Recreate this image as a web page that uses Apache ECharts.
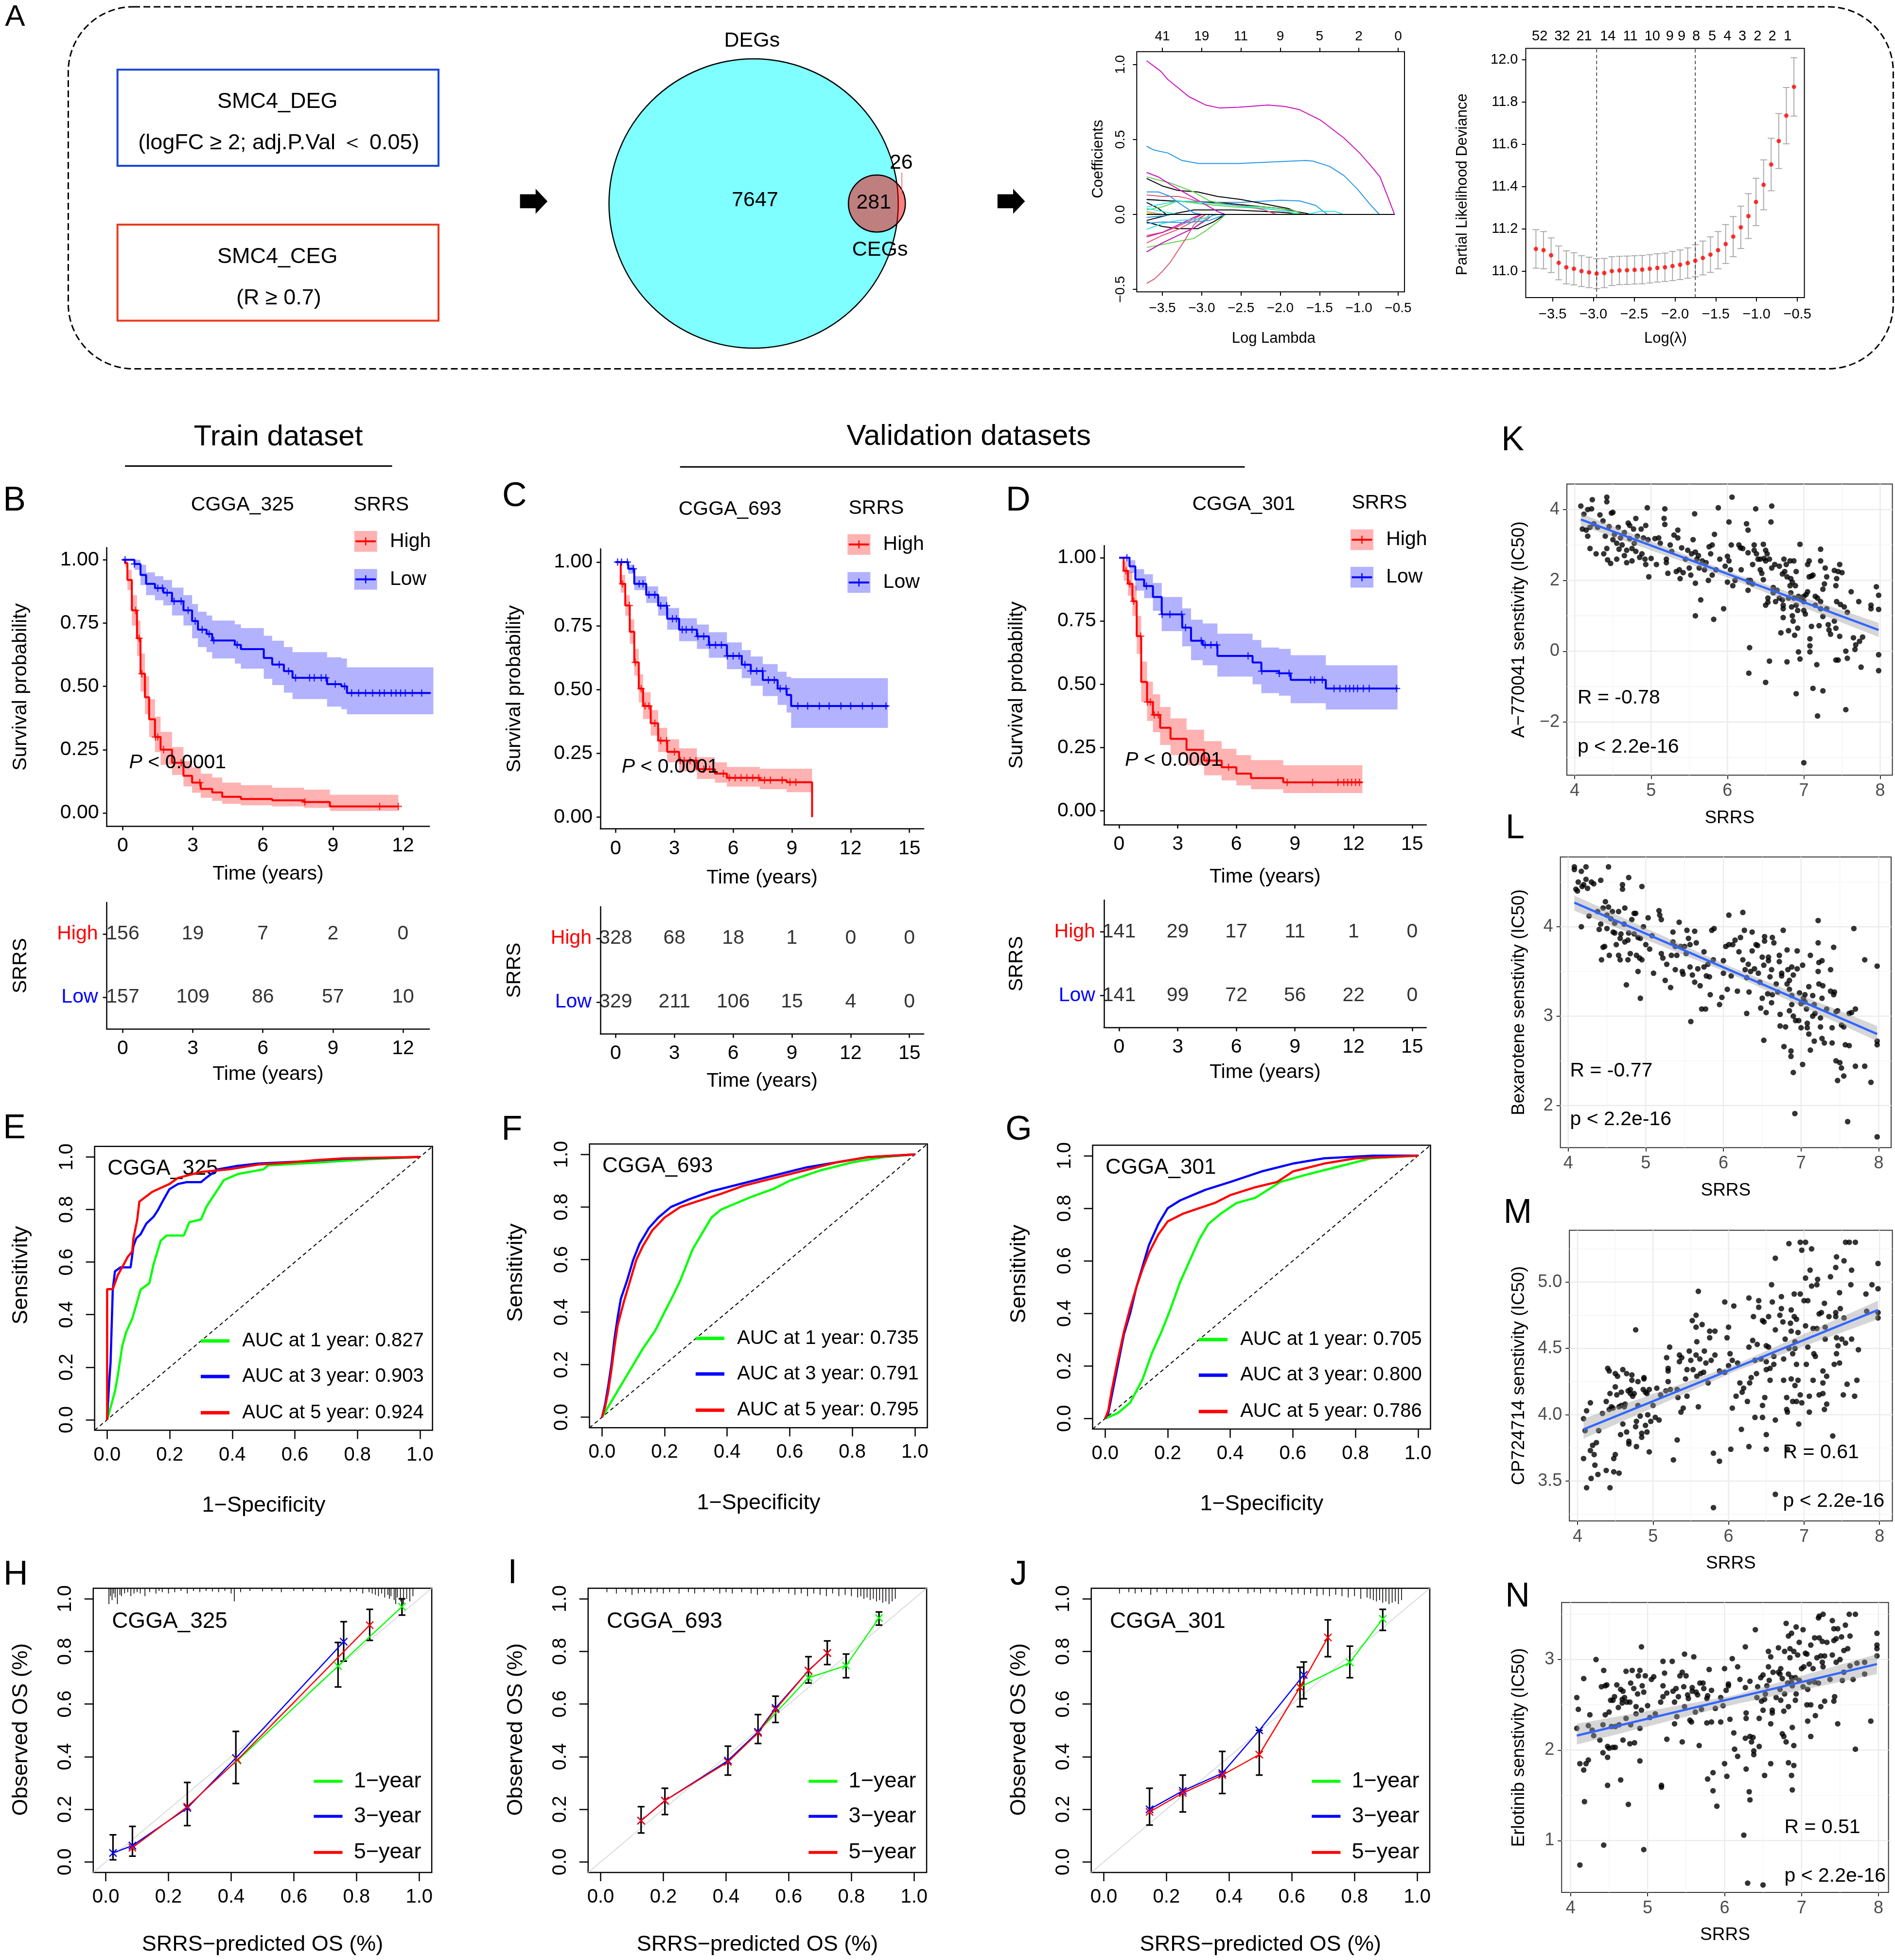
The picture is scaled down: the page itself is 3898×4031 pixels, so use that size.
<!DOCTYPE html>
<html>
<head>
<meta charset="utf-8">
<title>SRRS signature figure</title>
<script src="https://cdn.jsdelivr.net/npm/echarts@6.0.0/dist/echarts.min.js"></script>
<style>
  html, body { margin: 0; padding: 0; background: #fff; }
  #fig { width: 3898px; height: 4031px; }
</style>
</head>
<body>
<div id="fig"></div>
<script>
// ---------------- data : panel A ----------------
var vennSets = ['DEGs', 'CEGs'];
var vennCounts = [7647, 281, 26];           // DEG only, overlap, CEG only
var boxTitles = ['SMC4_DEG', 'SMC4_CEG'];
var boxRules = ['(logFC \u2265 2; adj.P.Val \uFF1C 0.05)', '(R \u2265 0.7)'];

var lassoTicks = [-3.5, -3.0, -2.5, -2.0, -1.5, -1.0, -0.5];
var lassoTopLab = ['41', '19', '11', '9', '5', '2', '0'];
var lassoPaths = [
  [[-3.70,1.025],[-3.52,0.955],[-3.43,0.90],[-3.16,0.785],[-2.95,0.73],[-2.77,0.71],[-2.53,0.715],[-2.15,0.73],[-1.94,0.72],[-1.76,0.70],[-1.49,0.63],[-1.19,0.51],[-0.99,0.41],[-0.84,0.32],[-0.73,0.25],[-0.545,0]],
  [[-3.70,0.455],[-3.61,0.43],[-3.43,0.41],[-3.25,0.36],[-3.04,0.34],[-2.53,0.34],[-2.09,0.35],[-1.67,0.36],[-1.58,0.355],[-1.37,0.32],[-1.19,0.26],[-1.02,0.17],[-0.87,0.075],[-0.74,0]],
  [[-3.70,0.10],[-3.4,0.09],[-3.0,0.08],[-2.5,0.08],[-2.0,0.095],[-1.75,0.09],[-1.55,0.06],[-1.4,0]],
  [[-3.70,0.24],[-3.5,0.19],[-3.3,0.16],[-3.05,0.15],[-2.8,0.12],[-2.5,0.10],[-2.2,0.07],[-1.9,0.04],[-1.7,0]],
  [[-3.70,0.10],[-3.4,0.09],[-3.1,0.085],[-2.8,0.08],[-2.4,0.06],[-2.0,0.04],[-1.8,0.02],[-1.6,0]],
  [[-3.70,0.08],[-3.55,0.04],[-3.45,0]],
  [[-3.70,-0.05],[-3.5,-0.08],[-3.3,-0.095],[-3.05,-0.095],[-2.85,-0.05],[-2.7,0]],
  [[-3.70,-0.04],[-3.4,0.0],[-3.1,0.03],[-2.6,0.03],[-2.0,0.015],[-1.7,0]],
  [[-3.70,0.25],[-3.4,0.21],[-3.1,0.15],[-2.9,0.09],[-2.6,0.06],[-2.2,0.05],[-1.85,0.03],[-1.7,0]],
  [[-3.70,-0.22],[-3.5,-0.2],[-3.3,-0.18],[-3.1,-0.16],[-2.95,-0.11],[-2.8,-0.05],[-2.7,0]],
  [[-3.70,-0.25],[-3.5,-0.19],[-3.3,-0.14],[-3.1,-0.09],[-2.95,-0.03],[-2.9,0]],
  [[-3.70,0.03],[-3.5,0.05],[-3.3,0.09],[-3.0,0.07],[-2.6,0.05],[-2.2,0.04],[-1.9,0.02],[-1.8,0]],
  [[-3.70,-0.46],[-3.6,-0.43],[-3.5,-0.38],[-3.4,-0.32],[-3.3,-0.24],[-3.2,-0.16],[-3.1,-0.07],[-3.0,-0.02],[-2.95,0]],
  [[-3.70,0.13],[-3.5,0.12],[-3.3,0.12],[-3.2,0.11],[-3.0,0.08],[-2.5,0.06],[-2.2,0.03],[-2.05,0]],
  [[-3.70,-0.19],[-3.5,-0.14],[-3.3,-0.1],[-3.05,-0.03],[-2.95,0]],
  [[-3.70,-0.14],[-3.5,-0.12],[-3.3,-0.08],[-3.1,-0.03],[-3.0,0]],
  [[-3.70,0.28],[-3.55,0.25],[-3.4,0.2],[-3.2,0.14],[-3.0,0.08],[-2.8,0.02],[-2.7,0]],
  [[-3.70,-0.25],[-3.5,-0.19],[-3.3,-0.14],[-3.1,-0.09],[-2.95,-0.04],[-2.85,0]],
  [[-3.70,-0.15],[-3.5,-0.12],[-3.3,-0.07],[-3.1,-0.02],[-3.0,0]],
  [[-3.70,0.04],[-3.5,0.02],[-3.3,0]],
  [[-3.70,-0.10],[-3.5,-0.06],[-3.3,-0.04],[-3.0,-0.03],[-2.8,0]],
  [[-3.70,0.05],[-3.3,0.09],[-3.0,0.08],[-2.6,0.06],[-2.2,0.04],[-1.9,0.02],[-1.75,0]],
  [[-3.70,0.15],[-3.55,0.15],[-3.4,0.12],[-3.3,0.08],[-3.1,0.01],[-3.0,0]],
  [[-3.70,-0.06],[-3.5,-0.05],[-3.2,-0.055],[-2.9,-0.04],[-2.7,0]],
  [[-3.70,-0.02],[-3.5,-0.01],[-3.4,0]],
  [[-3.70,0],[-1.65,0],[-1.5,0.02],[-1.3,0.02],[-1.2,0]],
  [[-3.70,0.02],[-3.5,0]],
  [[-3.70,0.01],[-3.55,0]],
  [[-3.70,0],[-0.545,0]]
];
var lassoColor = [5,3,3,0,0,0,0,0,2,2,2,2,1,1,1,1,5,5,5,4,4,4,3,3,3,4,7,6,0];
var rPalette = ['#000000','#DF536B','#61D04F','#2297E6','#28E2E5','#CD0BBC','#F5C710','#9E9E9E'];

var cvLogLam = [-3.704,-3.611,-3.518,-3.425,-3.332,-3.239,-3.146,-3.053,-2.960,-2.867,-2.774,-2.681,-2.588,-2.495,-2.402,-2.309,-2.216,-2.123,-2.030,-1.937,-1.844,-1.751,-1.658,-1.565,-1.472,-1.379,-1.286,-1.193,-1.100,-1.007,-0.914,-0.821,-0.728,-0.635,-0.542];
var cvMean = [11.106,11.100,11.076,11.040,11.019,11.012,11.001,10.995,10.989,10.992,11.001,11.004,11.005,11.007,11.008,11.012,11.016,11.019,11.025,11.031,11.039,11.050,11.063,11.079,11.100,11.129,11.164,11.208,11.261,11.328,11.409,11.505,11.616,11.736,11.872];
var cvSE = [0.091,0.088,0.082,0.080,0.078,0.076,0.073,0.072,0.071,0.069,0.068,0.067,0.067,0.067,0.067,0.067,0.067,0.067,0.069,0.070,0.072,0.076,0.080,0.084,0.088,0.092,0.095,0.100,0.106,0.112,0.118,0.124,0.130,0.133,0.138];
var cvTicksY = [11.0, 11.2, 11.4, 11.6, 11.8, 12.0];
var cvTopAt = [-3.658,-3.382,-3.113,-2.823,-2.547,-2.278,-2.063,-1.919,-1.740,-1.543,-1.357,-1.174,-0.987,-0.808,-0.618];
var cvTopLab = ['52','32','21','14','11','10','9','9','8','5','4','3','2','2','1'];
var cvLambdaSel = [-2.960, -1.751];

// ---------------- data : Kaplan-Meier  [time, surv, lower, upper] ----------------
var kmB_high = [[0,1,1,1],[0.1,0.987,0.97,1],[0.2,0.92,0.88,0.96],[0.39,0.80,0.74,0.86],[0.61,0.69,0.62,0.76],[0.76,0.55,0.48,0.63],[0.95,0.457,0.39,0.54],[1.13,0.37,0.30,0.45],[1.38,0.30,0.24,0.38],[1.62,0.25,0.19,0.32],[2.11,0.198,0.15,0.26],[2.6,0.147,0.105,0.205],[2.97,0.12,0.08,0.18],[3.34,0.095,0.06,0.155],[3.83,0.081,0.048,0.14],[4.26,0.064,0.036,0.12],[5.06,0.055,0.03,0.11],[6.4,0.05,0.026,0.10],[7.76,0.043,0.02,0.092],[8.87,0.026,0.008,0.072],[11.8,0.026,0.008,0.072]];
var kmB_low = [[0,1,1,1],[0.5,0.983,0.96,1],[0.76,0.94,0.9,0.98],[1.0,0.905,0.86,0.95],[1.38,0.888,0.84,0.935],[1.74,0.87,0.82,0.92],[2.11,0.836,0.78,0.89],[2.6,0.80,0.74,0.86],[2.97,0.758,0.69,0.825],[3.22,0.724,0.655,0.795],[3.59,0.707,0.635,0.78],[3.83,0.681,0.61,0.76],[4.8,0.664,0.59,0.745],[5.06,0.647,0.57,0.73],[6.04,0.612,0.53,0.70],[6.4,0.586,0.505,0.68],[6.9,0.56,0.475,0.655],[7.27,0.534,0.45,0.635],[8.75,0.509,0.42,0.615],[9.36,0.50,0.41,0.61],[9.6,0.474,0.39,0.575],[13.3,0.474,0.39,0.575]];
var censB_high = [0.55,0.7,0.82,1.4,1.5,1.75,2.5,3.3,7.8,11.0,11.8];
var censB_low = [0.1,0.5,1.5,1.7,1.9,2.2,2.5,2.8,3.1,3.4,3.7,3.9,4.9,6.7,7.1,7.4,8.0,8.2,8.5,8.7,9.1,9.5,9.8,10.1,10.4,10.7,11.0,11.2,11.5,11.7,11.9,12.1,12.4,12.8,13.3];
var kmC_high = [[0,1,1,1],[0.26,0.915,0.88,0.95],[0.49,0.83,0.79,0.87],[0.72,0.727,0.68,0.775],[0.95,0.607,0.555,0.66],[1.18,0.504,0.45,0.56],[1.4,0.436,0.385,0.49],[1.79,0.368,0.32,0.42],[2.17,0.30,0.255,0.35],[2.63,0.256,0.215,0.305],[3.24,0.222,0.18,0.27],[4.15,0.188,0.15,0.235],[5.07,0.171,0.135,0.215],[5.68,0.154,0.12,0.197],[7.36,0.145,0.11,0.19],[8.73,0.137,0.098,0.19],[10.03,0.137,0.098,0.19],[10.03,0,0.098,0.19]];
var kmC_low = [[0,1,1,1],[0.64,0.974,0.955,0.99],[0.95,0.915,0.89,0.945],[1.56,0.872,0.84,0.905],[2.17,0.829,0.79,0.865],[2.63,0.778,0.735,0.82],[3.24,0.735,0.69,0.78],[4.15,0.709,0.66,0.755],[4.76,0.675,0.625,0.725],[5.68,0.632,0.58,0.685],[6.44,0.598,0.545,0.655],[6.9,0.573,0.515,0.63],[7.51,0.538,0.475,0.60],[8.27,0.504,0.44,0.57],[8.73,0.479,0.41,0.55],[8.96,0.436,0.35,0.545],[13.9,0.436,0.35,0.545]];
var censC_high = [0.35,0.7,1.0,1.3,1.5,1.7,2.0,2.3,2.6,3.0,3.3,3.5,3.8,4.1,4.5,4.8,5.5,5.8,6.1,6.4,6.7,7.0,7.3,7.6,7.9,8.5,8.9,9.2];
var censC_low = [0.1,0.3,0.6,0.9,1.2,1.4,1.7,2.0,2.3,2.6,2.9,3.1,3.4,3.6,3.9,4.2,4.5,4.8,5.1,5.4,5.7,6.0,6.3,6.6,6.9,7.2,7.5,7.8,8.1,8.4,8.7,9.3,9.8,10.4,10.9,11.5,12.0,12.6,13.1,13.8];
var kmD_high = [[0,1,1,1],[0.23,0.948,0.91,0.985],[0.45,0.897,0.85,0.945],[0.68,0.828,0.77,0.89],[0.9,0.69,0.62,0.77],[1.13,0.509,0.43,0.59],[1.43,0.43,0.355,0.51],[1.73,0.379,0.31,0.46],[2.1,0.328,0.26,0.41],[2.63,0.284,0.22,0.365],[3.45,0.241,0.18,0.32],[4.35,0.198,0.14,0.275],[5.25,0.172,0.12,0.245],[6.0,0.147,0.10,0.22],[6.75,0.129,0.085,0.20],[8.4,0.112,0.07,0.18],[12.45,0.112,0.07,0.18]];
var kmD_low = [[0,1,1,1],[0.53,0.966,0.94,0.99],[0.83,0.914,0.87,0.955],[1.28,0.888,0.84,0.935],[1.73,0.845,0.79,0.90],[2.18,0.776,0.71,0.845],[3.23,0.724,0.65,0.80],[3.68,0.672,0.595,0.755],[4.28,0.655,0.575,0.74],[5.03,0.612,0.53,0.70],[6.83,0.586,0.50,0.675],[7.28,0.552,0.465,0.645],[8.18,0.543,0.455,0.64],[8.78,0.517,0.425,0.615],[10.58,0.483,0.40,0.575],[14.25,0.483,0.40,0.575]];
var censD_high = [0.35,0.55,0.75,1.1,1.45,1.6,1.8,2.0,4.5,5.6,8.6,9.9,11.2,11.5,11.7,11.9,12.1,12.3];
var censD_low = [0.4,1.4,2.2,2.6,3.2,3.4,4.2,4.4,4.7,5.0,6.6,7.3,8.2,8.7,9.8,10.0,10.4,11.0,11.3,11.6,11.8,12.0,12.2,12.5,12.8,14.2];

var riskTimesB = [0, 3, 6, 9, 12];
var riskHighB = [156, 19, 7, 2, 0];
var riskLowB = [157, 109, 86, 57, 10];
var riskTimesCD = [0, 3, 6, 9, 12, 15];
var riskHighC = [328, 68, 18, 1, 0, 0];
var riskLowC = [329, 211, 106, 15, 4, 0];
var riskHighD = [141, 29, 17, 11, 1, 0];
var riskLowD = [141, 99, 72, 56, 22, 0];

// ---------------- data : time-dependent ROC ----------------
var rocE1 = [[0,0],[0.011,0.047],[0.025,0.108],[0.034,0.168],[0.048,0.279],[0.061,0.334],[0.08,0.384],[0.089,0.42],[0.107,0.495],[0.135,0.52],[0.148,0.59],[0.171,0.681],[0.19,0.701],[0.245,0.701],[0.263,0.752],[0.3,0.762],[0.318,0.812],[0.354,0.877],[0.373,0.912],[0.418,0.935],[0.5,0.953],[0.514,0.968],[0.666,0.978],[0.831,0.991],[1,1]];
var rocE3 = [[0,0],[0.006,0.133],[0.011,0.218],[0.018,0.495],[0.025,0.565],[0.043,0.58],[0.075,0.58],[0.084,0.66],[0.093,0.69],[0.107,0.706],[0.125,0.746],[0.148,0.772],[0.162,0.797],[0.18,0.837],[0.199,0.877],[0.226,0.897],[0.254,0.904],[0.3,0.904],[0.318,0.922],[0.354,0.953],[0.41,0.965],[0.483,0.975],[0.62,0.983],[0.757,0.993],[1,1]];
var rocE5 = [[0,0],[0,0.497],[0.018,0.497],[0.025,0.52],[0.034,0.55],[0.048,0.58],[0.057,0.6],[0.066,0.62],[0.08,0.64],[0.084,0.69],[0.096,0.76],[0.103,0.83],[0.125,0.85],[0.144,0.867],[0.171,0.882],[0.199,0.897],[0.226,0.92],[0.3,0.943],[0.391,0.953],[0.483,0.971],[0.574,0.978],[0.666,0.988],[0.757,0.995],[1,1]];
var rocF1 = [[0,0],[0.05,0.1],[0.1,0.2],[0.13,0.26],[0.17,0.33],[0.2,0.4],[0.23,0.47],[0.25,0.52],[0.27,0.58],[0.29,0.64],[0.32,0.7],[0.35,0.76],[0.38,0.79],[0.42,0.81],[0.48,0.84],[0.55,0.87],[0.6,0.9],[0.7,0.94],[0.8,0.97],[0.9,0.99],[1,1]];
var rocF3 = [[0,0],[0.01,0.05],[0.02,0.12],[0.03,0.2],[0.04,0.3],[0.05,0.38],[0.06,0.45],[0.08,0.52],[0.1,0.6],[0.12,0.66],[0.15,0.72],[0.18,0.76],[0.22,0.8],[0.28,0.83],[0.35,0.86],[0.45,0.89],[0.55,0.92],[0.65,0.95],[0.75,0.97],[0.85,0.99],[1,1]];
var rocF5 = [[0,0],[0.01,0.04],[0.02,0.1],[0.03,0.18],[0.04,0.27],[0.05,0.35],[0.07,0.44],[0.09,0.52],[0.11,0.6],[0.13,0.65],[0.16,0.71],[0.2,0.76],[0.25,0.8],[0.3,0.82],[0.38,0.85],[0.45,0.88],[0.55,0.91],[0.65,0.94],[0.75,0.97],[0.85,0.99],[1,1]];
var rocG1 = [[0,0],[0.04,0.02],[0.08,0.06],[0.12,0.15],[0.15,0.25],[0.18,0.33],[0.21,0.42],[0.24,0.52],[0.27,0.6],[0.3,0.68],[0.33,0.74],[0.37,0.78],[0.42,0.82],[0.48,0.84],[0.52,0.87],[0.56,0.9],[0.65,0.93],[0.75,0.96],[0.85,0.99],[1,1]];
var rocG3 = [[0,0],[0.01,0.02],[0.02,0.08],[0.04,0.2],[0.06,0.32],[0.08,0.4],[0.1,0.5],[0.12,0.58],[0.14,0.66],[0.17,0.74],[0.2,0.8],[0.24,0.83],[0.28,0.85],[0.32,0.87],[0.4,0.9],[0.5,0.94],[0.6,0.97],[0.7,0.99],[0.85,1],[1,1]];
var rocG5 = [[0,0],[0.01,0.03],[0.02,0.1],[0.04,0.22],[0.06,0.33],[0.08,0.42],[0.1,0.5],[0.12,0.57],[0.14,0.63],[0.17,0.7],[0.2,0.75],[0.25,0.78],[0.3,0.8],[0.35,0.82],[0.4,0.85],[0.48,0.88],[0.55,0.9],[0.6,0.94],[0.7,0.97],[0.8,0.99],[1,1]];
var aucE = ['0.827', '0.903', '0.924'];
var aucF = ['0.735', '0.791', '0.795'];
var aucG = ['0.705', '0.800', '0.786'];
var unitTicks = [0, 0.2, 0.4, 0.6, 0.8, 1.0];

// ---------------- data : calibration ----------------
var calH1 = [[0.42,0.385],[0.741,0.744],[0.945,0.97]];
var calH3 = [[0.023,0.034],[0.085,0.062],[0.26,0.205],[0.415,0.395],[0.759,0.837]];
var calH5 = [[0.085,0.054],[0.26,0.21],[0.42,0.388],[0.842,0.90]];
var errH = [[0.023,0.008,0.103],[0.085,0.022,0.135],[0.26,0.138,0.302],[0.415,0.298,0.496],[0.741,0.665,0.834],[0.759,0.763,0.913],[0.842,0.842,0.96],[0.945,0.938,1.0]];
var calI1 = [[0.502,0.494],[0.663,0.70],[0.783,0.746],[0.888,0.927]];
var calI3 = [[0.129,0.157],[0.205,0.233],[0.406,0.385],[0.502,0.494],[0.558,0.585],[0.663,0.727],[0.723,0.794]];
var calI5 = [[0.129,0.157],[0.205,0.233],[0.406,0.38],[0.502,0.49],[0.558,0.58],[0.663,0.727],[0.723,0.794]];
var errI = [[0.129,0.11,0.21],[0.205,0.18,0.28],[0.406,0.33,0.44],[0.502,0.45,0.56],[0.558,0.53,0.63],[0.663,0.68,0.78],[0.723,0.75,0.84],[0.783,0.70,0.79],[0.888,0.9,0.95]];
var calJ1 = [[0.626,0.664],[0.785,0.758],[0.89,0.924]];
var calJ3 = [[0.146,0.2],[0.252,0.27],[0.378,0.337],[0.496,0.5],[0.638,0.711]];
var calJ5 = [[0.146,0.19],[0.252,0.262],[0.378,0.33],[0.496,0.408],[0.626,0.664],[0.715,0.853]];
var errJ = [[0.146,0.14,0.28],[0.252,0.19,0.33],[0.378,0.26,0.42],[0.496,0.33,0.5],[0.626,0.59,0.74],[0.638,0.62,0.76],[0.715,0.78,0.92],[0.785,0.7,0.82],[0.89,0.88,0.96]];
var rugHx = [0.01,0.015,0.02,0.025,0.03,0.037,0.045,0.05,0.06,0.07,0.08,0.09,0.1,0.11,0.125,0.14,0.16,0.17,0.18,0.2,0.22,0.24,0.26,0.28,0.3,0.32,0.34,0.36,0.38,0.4,0.41,0.43,0.46,0.5,0.53,0.56,0.6,0.63,0.66,0.7,0.72,0.75,0.78,0.8,0.82,0.84,0.85,0.86,0.87,0.88,0.89,0.9,0.905,0.91,0.92,0.925,0.93,0.94,0.95,0.96,0.97,0.98];
var rugHlen = [0.06,0.03,0.045,0.02,0.035,0.06,0.025,0.03,0.02,0.015,0.03,0.02,0.015,0.02,0.03,0.015,0.02,0.01,0.015,0.02,0.015,0.01,0.02,0.01,0.015,0.01,0.012,0.015,0.01,0.02,0.05,0.015,0.01,0.012,0.01,0.015,0.01,0.012,0.01,0.015,0.01,0.012,0.015,0.01,0.02,0.015,0.02,0.025,0.03,0.02,0.035,0.025,0.04,0.03,0.045,0.06,0.035,0.05,0.06,0.04,0.05,0.03];
var rugIx = [0.02,0.05,0.08,0.1,0.12,0.14,0.16,0.18,0.2,0.22,0.25,0.28,0.3,0.33,0.36,0.38,0.4,0.42,0.45,0.48,0.5,0.52,0.55,0.57,0.6,0.62,0.64,0.66,0.68,0.7,0.72,0.74,0.76,0.78,0.8,0.82,0.83,0.84,0.85,0.86,0.87,0.88,0.89,0.9,0.91,0.92,0.93,0.94];
var rugIlen = [0.015,0.02,0.015,0.025,0.02,0.015,0.02,0.015,0.02,0.015,0.02,0.015,0.02,0.015,0.01,0.02,0.015,0.02,0.015,0.02,0.025,0.015,0.02,0.015,0.02,0.025,0.02,0.03,0.02,0.025,0.03,0.02,0.03,0.025,0.03,0.035,0.03,0.04,0.035,0.045,0.04,0.05,0.045,0.055,0.05,0.06,0.05,0.04];
var rugJx = [0.05,0.08,0.1,0.12,0.15,0.17,0.2,0.22,0.25,0.27,0.3,0.33,0.35,0.38,0.4,0.43,0.46,0.48,0.5,0.53,0.55,0.58,0.6,0.62,0.64,0.66,0.68,0.7,0.72,0.74,0.76,0.78,0.8,0.82,0.84,0.85,0.86,0.87,0.88,0.89,0.9,0.91,0.92,0.93,0.94,0.95];
var rugJlen = [0.02,0.015,0.02,0.015,0.025,0.015,0.02,0.015,0.02,0.015,0.02,0.015,0.02,0.015,0.02,0.015,0.02,0.015,0.02,0.015,0.02,0.015,0.025,0.02,0.025,0.02,0.03,0.025,0.03,0.025,0.03,0.035,0.03,0.04,0.035,0.04,0.045,0.05,0.045,0.055,0.05,0.06,0.055,0.05,0.06,0.045];

// ---------------- data : drug sensitivity vs SRRS ----------------
var srrsTicks = [4, 5, 6, 7, 8];
var srrsMinor = [4.5, 5.5, 6.5, 7.5];
var scatK = [[4.08,4.1],[4.1,3.45],[4.12,3.87],[4.15,3.42],[4.17,4.0],[4.17,3.25],[4.2,3.5],[4.2,2.9],[4.22,4.02],[4.23,4.28],[4.25,3.6],[4.28,2.75],[4.3,3.5],[4.33,3.85],[4.37,3.68],[4.38,2.75],[4.4,3.25],[4.42,4.35],[4.42,4.22],[4.42,2.9],[4.43,2.58],[4.45,3.52],[4.47,2.48],[4.48,3.9],[4.5,3.92],[4.5,3.15],[4.52,3.3],[4.55,3.05],[4.55,2.6],[4.57,3.5],[4.58,2.88],[4.6,3.2],[4.62,3.0],[4.65,3.35],[4.65,2.7],[4.68,2.5],[4.68,2.85],[4.7,3.62],[4.72,3.55],[4.72,3.18],[4.75,2.9],[4.75,2.55],[4.77,3.45],[4.78,3.05],[4.8,3.75],[4.8,2.82],[4.82,3.25],[4.85,2.65],[4.87,3.45],[4.88,2.75],[4.9,3.2],[4.92,2.6],[4.93,2.45],[4.93,3.55],[4.95,4.05],[4.96,3.15],[4.97,2.1],[5.0,2.62],[5.05,3.18],[5.07,2.45],[5.1,3.2],[5.12,3.05],[5.17,3.75],[5.18,4.02],[5.18,3.58],[5.2,2.6],[5.2,2.5],[5.22,2.2],[5.25,3.0],[5.27,2.82],[5.3,3.28],[5.33,2.25],[5.35,3.42],[5.35,3.2],[5.37,2.3],[5.38,2.05],[5.4,2.92],[5.42,2.22],[5.45,2.6],[5.48,2.85],[5.5,2.35],[5.52,2.15],[5.53,2.75],[5.55,3.15],[5.57,3.88],[5.58,2.8],[5.58,1.92],[5.58,1.0],[5.6,2.6],[5.62,2.7],[5.63,2.35],[5.65,1.45],[5.67,2.55],[5.7,2.3],[5.72,2.5],[5.75,2.0],[5.76,2.95],[5.78,2.75],[5.8,3.0],[5.8,2.15],[5.82,0.9],[5.83,3.3],[5.85,2.3],[5.88,4.05],[5.9,2.6],[5.95,1.2],[5.97,2.4],[6.0,2.68],[6.0,1.95],[6.02,2.55],[6.02,3.65],[6.04,2.3],[6.05,3.0],[6.06,4.35],[6.07,1.85],[6.1,2.0],[6.15,3.0],[6.17,2.92],[6.18,2.3],[6.2,2.9],[6.25,3.6],[6.27,3.42],[6.27,2.78],[6.27,2.0],[6.27,1.72],[6.28,1.95],[6.28,-0.62],[6.29,0.1],[6.3,2.0],[6.33,1.9],[6.33,2.45],[6.35,3.0],[6.35,2.85],[6.37,4.02],[6.38,2.75],[6.4,2.6],[6.43,2.6],[6.43,2.3],[6.45,2.2],[6.47,3.02],[6.47,2.02],[6.48,2.62],[6.5,1.3],[6.5,2.85],[6.5,2.55],[6.5,-0.88],[6.52,2.75],[6.53,1.5],[6.53,1.38],[6.55,2.6],[6.55,-0.28],[6.57,3.65],[6.58,4.1],[6.58,2.35],[6.6,1.8],[6.6,1.65],[6.62,2.45],[6.63,1.4],[6.65,1.72],[6.68,2.4],[6.68,1.5],[6.7,0.52],[6.72,2.18],[6.72,1.45],[6.73,1.3],[6.73,1.2],[6.73,0.95],[6.74,2.6],[6.75,2.25],[6.77,2.45],[6.78,2.1],[6.78,-0.3],[6.8,0.58],[6.8,1.5],[6.82,2.55],[6.82,1.85],[6.83,1.65],[6.83,2.05],[6.84,1.25],[6.85,1.95],[6.85,1.0],[6.86,0.85],[6.87,2.55],[6.87,1.5],[6.88,0.45],[6.89,1.85],[6.9,2.25],[6.9,1.3],[6.9,-1.2],[6.92,1.15],[6.92,0.65],[6.93,-0.02],[6.93,1.55],[6.95,3.02],[6.95,-0.22],[6.97,1.45],[7.0,1.4],[7.0,1.15],[7.0,1.55],[7.0,-3.15],[7.02,1.05],[7.03,1.6],[7.05,2.45],[7.05,1.68],[7.07,2.1],[7.07,2.55],[7.08,0.35],[7.08,0.15],[7.08,-0.02],[7.1,0.7],[7.1,2.12],[7.12,2.15],[7.12,-1.05],[7.15,1.55],[7.15,1.3],[7.17,-0.38],[7.18,1.5],[7.18,-1.83],[7.2,0.72],[7.22,1.4],[7.22,1.2],[7.22,2.88],[7.22,2.55],[7.25,1.75],[7.25,0.98],[7.25,-1.12],[7.27,1.9],[7.28,2.35],[7.3,2.1],[7.3,1.2],[7.32,0.75],[7.33,0.6],[7.35,0.48],[7.4,2.28],[7.4,0.85],[7.42,1.85],[7.42,0.65],[7.42,-0.25],[7.43,2.05],[7.43,1.4],[7.45,2.25],[7.45,-0.25],[7.47,2.45],[7.47,0.42],[7.48,1.32],[7.5,2.22],[7.53,1.25],[7.55,0.0],[7.55,-1.65],[7.57,1.1],[7.57,-0.2],[7.62,1.68],[7.65,0.38],[7.67,0.05],[7.68,0.18],[7.72,1.4],[7.73,0.28],[7.75,-0.45],[7.77,0.4],[7.88,1.3],[7.88,1.2],[7.95,1.82],[7.98,1.58],[7.98,1.18],[7.98,-0.1],[7.98,-0.55]];
var scatL = [[4.08,4.67],[4.08,4.64],[4.1,4.42],[4.12,4.4],[4.13,4.5],[4.17,4.62],[4.17,4.0],[4.18,4.45],[4.2,4.47],[4.23,4.67],[4.23,4.53],[4.25,4.43],[4.27,4.12],[4.3,4.5],[4.33,4.48],[4.38,4.17],[4.4,3.97],[4.42,4.03],[4.42,4.52],[4.43,3.63],[4.45,3.77],[4.45,4.21],[4.47,3.78],[4.48,4.28],[4.5,4.13],[4.5,3.98],[4.52,4.67],[4.52,4.22],[4.53,3.68],[4.55,4.09],[4.57,4.17],[4.58,3.94],[4.6,3.93],[4.6,4.04],[4.62,3.8],[4.65,4.17],[4.65,3.68],[4.67,3.63],[4.67,3.87],[4.68,3.92],[4.7,4.47],[4.7,4.42],[4.72,4.03],[4.73,3.83],[4.73,4.21],[4.75,3.35],[4.77,3.85],[4.77,3.63],[4.78,4.55],[4.78,3.93],[4.8,3.7],[4.82,4.08],[4.85,4.15],[4.85,3.92],[4.87,4.15],[4.88,3.68],[4.9,3.5],[4.9,3.88],[4.92,3.65],[4.93,3.2],[4.93,3.87],[4.95,3.63],[4.95,4.45],[4.97,4.0],[5.0,3.8],[5.03,4.1],[5.05,3.75],[5.08,3.9],[5.1,3.48],[5.17,4.18],[5.18,4.13],[5.2,3.7],[5.2,4.08],[5.22,3.65],[5.25,3.4],[5.27,3.58],[5.32,3.32],[5.33,3.68],[5.35,3.94],[5.35,3.83],[5.38,3.52],[5.38,3.78],[5.4,3.68],[5.43,4.05],[5.45,3.78],[5.47,3.5],[5.48,3.47],[5.5,3.78],[5.52,3.7],[5.53,3.96],[5.55,3.87],[5.57,3.55],[5.57,3.8],[5.58,2.94],[5.6,3.46],[5.63,3.95],[5.63,3.38],[5.65,3.82],[5.67,3.53],[5.7,3.34],[5.72,3.08],[5.75,3.55],[5.75,3.72],[5.77,3.08],[5.78,3.45],[5.8,3.58],[5.82,3.44],[5.83,3.24],[5.85,3.96],[5.87,3.63],[5.88,3.98],[5.95,3.13],[5.98,3.21],[6.0,3.62],[6.0,3.48],[6.03,3.78],[6.05,3.3],[6.07,3.8],[6.07,4.13],[6.1,3.45],[6.12,3.8],[6.15,3.85],[6.18,3.28],[6.2,3.72],[6.22,3.88],[6.25,3.63],[6.25,4.16],[6.27,3.96],[6.28,3.52],[6.3,3.03],[6.3,3.43],[6.32,3.58],[6.33,3.27],[6.35,3.5],[6.37,3.73],[6.37,3.94],[6.4,3.53],[6.42,3.8],[6.44,3.79],[6.45,3.48],[6.47,3.38],[6.48,3.09],[6.5,3.66],[6.5,3.2],[6.52,3.57],[6.52,2.73],[6.53,3.89],[6.53,3.84],[6.55,3.04],[6.57,3.25],[6.58,3.62],[6.58,3.66],[6.6,3.44],[6.62,3.52],[6.62,3.15],[6.63,3.88],[6.63,3.24],[6.65,3.82],[6.68,3.36],[6.7,3.27],[6.72,3.68],[6.72,3.61],[6.73,3.02],[6.73,2.89],[6.75,3.48],[6.75,3.45],[6.77,3.96],[6.78,2.66],[6.8,2.88],[6.82,3.36],[6.82,3.74],[6.83,3.52],[6.85,3.4],[6.85,3.3],[6.85,3.06],[6.87,2.61],[6.87,2.55],[6.88,3.55],[6.88,3.23],[6.88,3.13],[6.9,3.0],[6.9,3.46],[6.9,2.37],[6.92,1.91],[6.93,2.95],[6.95,3.73],[6.95,3.53],[6.97,2.95],[6.98,3.26],[7.0,3.14],[7.0,2.87],[7.02,3.57],[7.02,2.46],[7.03,3.2],[7.05,3.24],[7.05,3.16],[7.07,3.08],[7.08,2.87],[7.08,2.92],[7.1,3.33],[7.1,2.8],[7.12,2.62],[7.12,3.68],[7.15,3.0],[7.15,3.23],[7.17,2.72],[7.17,3.13],[7.18,3.03],[7.22,4.07],[7.22,3.82],[7.22,3.5],[7.23,3.36],[7.23,3.6],[7.25,2.98],[7.25,2.88],[7.27,3.62],[7.27,3.2],[7.27,2.75],[7.28,3.34],[7.3,2.7],[7.33,3.08],[7.38,3.52],[7.38,3.28],[7.4,2.87],[7.4,2.7],[7.42,3.77],[7.42,3.24],[7.43,3.27],[7.45,2.5],[7.45,3.05],[7.47,3.06],[7.47,2.28],[7.5,2.48],[7.52,2.9],[7.52,2.42],[7.55,2.88],[7.55,2.33],[7.57,2.68],[7.6,1.82],[7.62,3.03],[7.62,2.67],[7.65,3.04],[7.68,3.98],[7.7,2.44],[7.7,3.08],[7.82,3.63],[7.82,2.44],[7.9,2.26],[7.98,3.56],[7.98,2.72],[7.98,2.68],[7.98,1.65]];
var scatM = [[4.08,3.97],[4.08,3.67],[4.1,3.88],[4.12,4.03],[4.12,3.45],[4.17,4.09],[4.17,3.73],[4.18,3.52],[4.2,3.77],[4.22,3.7],[4.23,3.62],[4.25,3.79],[4.27,3.55],[4.28,3.88],[4.33,4.01],[4.38,4.1],[4.38,3.58],[4.4,4.35],[4.42,4.33],[4.42,4.04],[4.43,4.16],[4.43,3.45],[4.45,4.06],[4.47,4.05],[4.48,3.67],[4.48,3.57],[4.5,4.21],[4.5,4.31],[4.5,3.7],[4.52,4.15],[4.53,4.29],[4.55,4.06],[4.55,3.56],[4.57,3.85],[4.58,4.17],[4.58,4.07],[4.6,4.34],[4.6,3.93],[4.62,4.06],[4.63,4.08],[4.65,3.87],[4.65,4.31],[4.67,4.18],[4.68,3.8],[4.68,3.78],[4.7,4.19],[4.7,4.16],[4.72,4.3],[4.72,4.26],[4.73,4.14],[4.75,4.16],[4.77,4.64],[4.77,3.91],[4.78,3.95],[4.78,3.76],[4.8,4.07],[4.8,4.25],[4.83,3.99],[4.85,3.86],[4.85,3.83],[4.87,4.19],[4.88,4.27],[4.88,4.28],[4.9,4.17],[4.9,3.92],[4.92,3.87],[4.92,4.16],[4.93,4.0],[4.95,4.19],[4.95,3.72],[4.97,3.95],[5.0,4.07],[5.03,3.98],[5.05,4.2],[5.08,3.96],[5.1,4.15],[5.17,4.18],[5.18,4.43],[5.2,4.35],[5.2,4.33],[5.2,4.25],[5.22,4.51],[5.23,4.19],[5.27,3.66],[5.32,3.81],[5.32,4.19],[5.33,4.13],[5.35,4.4],[5.35,4.45],[5.37,4.02],[5.38,4.43],[5.4,4.05],[5.43,4.27],[5.45,4.14],[5.45,4.34],[5.48,4.48],[5.5,4.41],[5.52,4.71],[5.53,4.34],[5.57,4.66],[5.57,4.75],[5.57,4.45],[5.58,4.55],[5.58,4.29],[5.6,4.93],[5.6,4.06],[5.62,4.42],[5.63,4.31],[5.65,4.68],[5.67,4.32],[5.68,4.48],[5.7,4.39],[5.73,4.24],[5.75,4.58],[5.75,4.63],[5.77,4.41],[5.8,3.71],[5.8,3.3],[5.82,4.63],[5.82,4.45],[5.88,4.33],[5.88,3.65],[5.95,4.85],[5.95,4.32],[5.98,4.58],[6.0,4.66],[6.0,4.37],[6.02,4.46],[6.03,3.74],[6.05,4.05],[6.05,4.41],[6.07,4.82],[6.1,4.14],[6.12,4.39],[6.15,4.24],[6.17,3.89],[6.18,4.17],[6.2,4.2],[6.25,4.1],[6.27,4.88],[6.27,4.51],[6.27,3.76],[6.28,4.24],[6.3,4.28],[6.32,4.56],[6.33,4.74],[6.35,4.41],[6.35,3.98],[6.37,4.31],[6.38,4.53],[6.4,4.86],[6.4,4.81],[6.43,4.42],[6.45,4.71],[6.45,4.07],[6.45,3.98],[6.47,4.7],[6.48,4.13],[6.5,4.52],[6.5,4.4],[6.5,4.34],[6.5,3.85],[6.5,3.74],[6.53,4.74],[6.53,4.51],[6.55,4.35],[6.55,4.26],[6.57,4.98],[6.58,4.85],[6.6,4.38],[6.6,4.44],[6.62,5.18],[6.62,4.64],[6.62,3.96],[6.62,3.4],[6.68,4.75],[6.7,4.89],[6.7,4.8],[6.72,4.7],[6.73,4.42],[6.73,4.26],[6.75,4.57],[6.77,4.13],[6.77,4.04],[6.78,4.02],[6.78,3.74],[6.8,5.29],[6.8,4.5],[6.82,4.69],[6.83,4.79],[6.83,4.63],[6.83,4.27],[6.85,4.46],[6.85,4.1],[6.87,4.91],[6.87,4.74],[6.88,4.55],[6.88,4.5],[6.88,4.22],[6.9,4.72],[6.9,4.38],[6.9,4.1],[6.92,4.62],[6.92,4.26],[6.93,3.93],[6.95,5.3],[6.95,4.91],[6.95,4.15],[6.97,5.24],[6.97,4.09],[7.0,4.86],[7.02,5.3],[7.02,5.03],[7.02,4.67],[7.03,4.38],[7.05,4.86],[7.05,4.51],[7.07,4.02],[7.07,4.14],[7.08,5.09],[7.1,5.25],[7.1,4.97],[7.12,4.65],[7.12,4.26],[7.13,4.46],[7.15,4.44],[7.17,4.98],[7.17,4.65],[7.18,5.02],[7.2,4.76],[7.2,4.15],[7.23,4.77],[7.25,4.33],[7.25,4.24],[7.25,4.16],[7.27,4.84],[7.27,4.04],[7.28,4.66],[7.28,4.57],[7.3,4.08],[7.3,4.29],[7.33,4.74],[7.35,5.04],[7.38,3.84],[7.4,4.38],[7.42,5.11],[7.42,4.77],[7.42,4.74],[7.43,5.19],[7.43,4.58],[7.43,4.46],[7.45,4.52],[7.47,4.92],[7.47,4.39],[7.48,4.8],[7.5,4.57],[7.52,4.15],[7.53,5.16],[7.53,4.73],[7.55,5.3],[7.55,4.54],[7.57,4.23],[7.6,5.3],[7.62,4.98],[7.63,5.09],[7.63,4.57],[7.67,4.14],[7.68,5.3],[7.7,4.26],[7.72,4.49],[7.82,4.91],[7.83,4.78],[7.9,4.98],[7.98,5.14],[7.98,4.95],[7.98,4.77],[7.98,4.73]];
var scatN = [[4.08,2.58],[4.08,2.24],[4.1,2.45],[4.12,1.85],[4.12,0.73],[4.17,2.79],[4.17,1.78],[4.18,1.43],[4.2,1.85],[4.23,1.89],[4.23,2.27],[4.25,2.39],[4.28,2.22],[4.3,2.16],[4.33,3.0],[4.38,2.11],[4.4,2.7],[4.42,2.28],[4.42,1.97],[4.43,2.88],[4.43,0.95],[4.45,2.71],[4.45,2.39],[4.47,2.72],[4.48,2.04],[4.48,1.61],[4.48,1.92],[4.5,2.42],[4.5,2.02],[4.52,2.55],[4.53,2.26],[4.55,2.55],[4.55,2.03],[4.57,2.59],[4.58,2.03],[4.58,2.26],[4.6,2.72],[4.62,2.47],[4.63,2.28],[4.65,2.67],[4.65,1.67],[4.67,2.56],[4.67,2.52],[4.68,2.11],[4.68,2.65],[4.7,2.58],[4.72,2.87],[4.72,2.35],[4.73,2.53],[4.75,1.4],[4.77,2.07],[4.77,2.53],[4.78,2.74],[4.78,2.28],[4.8,2.88],[4.82,2.68],[4.83,2.08],[4.85,2.4],[4.85,2.48],[4.87,2.62],[4.88,2.82],[4.9,2.88],[4.9,2.24],[4.9,1.88],[4.92,3.14],[4.92,2.44],[4.93,2.71],[4.95,2.64],[4.95,0.9],[4.97,2.82],[5.0,2.49],[5.03,2.36],[5.05,2.78],[5.08,2.81],[5.1,2.4],[5.17,2.53],[5.18,1.61],[5.18,1.59],[5.2,2.71],[5.2,2.59],[5.2,2.98],[5.22,2.85],[5.25,2.12],[5.25,2.63],[5.32,2.98],[5.33,2.65],[5.35,2.53],[5.35,2.29],[5.37,2.68],[5.38,2.37],[5.4,2.59],[5.42,2.82],[5.45,2.86],[5.45,2.09],[5.47,2.7],[5.48,3.06],[5.48,2.48],[5.5,2.82],[5.52,2.61],[5.53,2.57],[5.55,2.33],[5.57,2.31],[5.58,2.69],[5.58,2.65],[5.6,3.03],[5.62,2.42],[5.63,2.64],[5.65,2.61],[5.67,2.05],[5.68,2.74],[5.7,2.45],[5.72,2.74],[5.73,2.68],[5.77,2.57],[5.77,2.3],[5.78,1.68],[5.78,2.6],[5.8,2.89],[5.83,2.31],[5.83,2.66],[5.85,1.75],[5.85,1.55],[5.88,2.46],[5.9,1.38],[5.95,2.58],[5.95,2.31],[5.98,2.49],[6.0,2.9],[6.0,1.85],[6.02,2.66],[6.03,1.71],[6.05,2.73],[6.05,2.71],[6.07,2.34],[6.1,3.01],[6.12,2.19],[6.13,2.01],[6.17,2.92],[6.17,1.93],[6.2,2.78],[6.25,1.06],[6.27,3.14],[6.27,2.69],[6.27,2.13],[6.28,1.79],[6.28,2.35],[6.28,2.41],[6.3,0.53],[6.32,1.54],[6.33,1.45],[6.33,2.76],[6.33,2.15],[6.35,2.09],[6.37,2.14],[6.38,1.99],[6.38,1.95],[6.4,3.33],[6.42,2.58],[6.43,2.7],[6.45,2.35],[6.45,2.04],[6.47,2.8],[6.48,2.54],[6.5,2.83],[6.5,2.44],[6.5,0.51],[6.52,2.56],[6.52,1.72],[6.53,2.62],[6.55,2.71],[6.57,2.92],[6.57,3.09],[6.58,2.77],[6.6,3.03],[6.6,2.29],[6.6,1.85],[6.62,2.41],[6.62,2.44],[6.63,2.86],[6.67,2.58],[6.7,2.86],[6.7,3.13],[6.72,2.84],[6.72,2.67],[6.73,2.55],[6.73,2.9],[6.75,2.79],[6.75,2.18],[6.77,2.15],[6.77,2.43],[6.78,2.62],[6.78,3.09],[6.8,2.09],[6.8,3.4],[6.82,2.74],[6.83,3.26],[6.83,2.84],[6.83,2.48],[6.83,1.86],[6.85,3.12],[6.85,3.02],[6.87,3.29],[6.87,2.8],[6.87,2.75],[6.87,1.72],[6.88,2.71],[6.88,2.25],[6.88,1.56],[6.9,3.09],[6.9,2.05],[6.9,1.83],[6.92,2.8],[6.92,2.55],[6.93,3.36],[6.93,2.62],[6.95,3.05],[6.97,3.19],[6.97,2.77],[7.0,2.9],[7.02,3.33],[7.02,2.7],[7.03,2.92],[7.05,3.07],[7.07,2.5],[7.07,3.06],[7.08,2.67],[7.08,2.32],[7.1,2.95],[7.1,2.75],[7.12,3.16],[7.12,2.5],[7.12,2.15],[7.15,2.9],[7.17,3.24],[7.17,2.75],[7.18,2.38],[7.2,3.02],[7.22,3.46],[7.22,2.74],[7.23,3.24],[7.23,3.48],[7.25,3.04],[7.25,2.48],[7.27,3.2],[7.27,2.97],[7.28,3.5],[7.28,2.92],[7.3,3.04],[7.3,2.54],[7.33,3.19],[7.37,2.78],[7.4,3.05],[7.4,3.43],[7.42,3.21],[7.42,3.34],[7.42,2.54],[7.43,2.59],[7.45,3.23],[7.45,2.97],[7.47,3.34],[7.47,2.29],[7.5,3.0],[7.52,3.25],[7.53,2.77],[7.55,3.1],[7.55,2.86],[7.57,3.38],[7.6,3.12],[7.62,3.5],[7.63,3.26],[7.63,2.93],[7.67,2.78],[7.7,3.5],[7.7,2.01],[7.72,2.96],[7.82,2.97],[7.82,2.84],[7.9,2.32],[7.98,3.29],[7.98,3.16],[7.98,3.12],[7.98,3.04]];
// fitted line ends and confidence band [x, lower, upper]
var fitK = [[4.08,3.72],[7.98,0.60]], bandK = [[4.08,3.55,3.89],[6.0,2.08,2.26],[7.98,0.40,0.80]];
var fitL = [[4.08,4.27],[7.98,2.80]], bandL = [[4.08,4.18,4.35],[6.1,3.47,3.55],[7.98,2.72,2.89]];
var fitM = [[4.08,3.89],[7.98,4.79]], bandM = [[4.08,3.82,3.97],[6.1,4.33,4.38],[7.98,4.72,4.86]];
var fitN = [[4.08,2.16],[7.98,2.95]], bandN = [[4.08,2.06,2.29],[6.1,2.50,2.60],[7.98,2.84,3.06]];

// ================= chart building =================
var S = 3898 / 1516;                 // layout was measured on a 1516 px wide copy
function p(v) { return v * S; }
var FONT = "'Liberation Sans', Arial, Helvetica, sans-serif";
var grids = [], xAxes = [], yAxes = [], series = [], graphics = [];
function minus(s) { return String(s).replace('-', '\u2212'); }
function f1(v) { return minus(v.toFixed(1)); }

function addGrid(x0, y0, x1, y1, border, bw) {
  grids.push({ left: p(x0), top: p(y0), width: p(x1 - x0), height: p(y1 - y0), containLabel: false,
    show: !!border, borderColor: border || 'transparent', borderWidth: bw || 0, backgroundColor: 'transparent' });
  return grids.length - 1;
}
function addAxis(dim, gi, min, max, o) {
  var a = {
    type: 'value', gridIndex: gi, min: min, max: max, position: o.pos,
    axisLine: { show: !!o.line, onZero: false, lineStyle: { color: '#000', width: 2.5 } },
    axisTick: { show: !!o.tickLen, customValues: o.ticks, length: o.tickLen || 5,
      lineStyle: { color: o.tickColor || '#000', width: o.tickWidth || 2.5 } },
    axisLabel: { customValues: o.ticks, formatter: o.fmt, fontSize: o.fs, fontFamily: FONT,
      color: o.color || '#000', margin: o.margin, rotate: o.rotate || 0 },
    splitLine: { show: false }
  };
  var list = dim === 'x' ? xAxes : yAxes;
  list.push(a);
  return list.length - 1;
}
function txt(x, y, s, fs, o) {
  o = o || {};
  graphics.push({ type: 'text', x: p(x), y: p(y), rotation: o.rot || 0, z: o.z == null ? 100 : o.z, silent: true,
    style: { text: s, fontSize: fs, fontFamily: o.family || FONT, fontStyle: o.italic ? 'italic' : 'normal',
      fill: o.color || '#000', align: o.align || 'center', verticalAlign: o.valign || 'middle', rich: o.rich } });
}
function gline(x1, y1, x2, y2, color, w, dash) {
  graphics.push({ type: 'line', z: 100, silent: true, shape: { x1: p(x1), y1: p(y1), x2: p(x2), y2: p(y2) },
    style: { stroke: color, lineWidth: w, lineDash: dash || null } });
}
function lineSeries(xi, yi, data, color, width, extra) {
  var s = { type: 'line', xAxisIndex: xi, yAxisIndex: yi, data: data, showSymbol: false, symbol: 'none',
    silent: true, animation: false, lineStyle: { color: color, width: width }, z: 3 };
  for (var k in (extra || {})) s[k] = extra[k];
  series.push(s);
}
// polygon band between lower/upper, either stepwise (KM) or straight (regression)
function bandSeries(xi, yi, rows, loIdx, hiIdx, color, step, z) {
  series.push({ type: 'custom', xAxisIndex: xi, yAxisIndex: yi, silent: true, z: z || 2,
    data: [[rows[0][0], rows[0][loIdx]]],
    renderItem: function (params, api) {
      var up = [], lo = [];
      for (var i = 0; i < rows.length; i++) {
        var t0 = rows[i][0];
        up.push(api.coord([t0, rows[i][hiIdx]]));
        lo.push(api.coord([t0, rows[i][loIdx]]));
        if (step && i + 1 < rows.length) {
          up.push(api.coord([rows[i + 1][0], rows[i][hiIdx]]));
          lo.push(api.coord([rows[i + 1][0], rows[i][loIdx]]));
        }
      }
      return { type: 'polygon', shape: { points: up.concat(lo.reverse()) }, style: { fill: color } };
    } });
}
function errBarSeries(xi, yi, rows, color, w, cap, z) {
  series.push({ type: 'custom', xAxisIndex: xi, yAxisIndex: yi, silent: true, z: z || 4,
    data: rows.map(function (r) { return [r[0], r[1], r[2]]; }),
    renderItem: function (params, api) {
      var a = api.coord([api.value(0), api.value(1)]), b = api.coord([api.value(0), api.value(2)]);
      var st = { stroke: color, lineWidth: w };
      return { type: 'group', children: [
        { type: 'line', shape: { x1: a[0], y1: a[1], x2: b[0], y2: b[1] }, style: st },
        { type: 'line', shape: { x1: a[0] - cap, y1: a[1], x2: a[0] + cap, y2: a[1] }, style: st },
        { type: 'line', shape: { x1: b[0] - cap, y1: b[1], x2: b[0] + cap, y2: b[1] }, style: st }] };
    } });
}
function rugSeries(xi, yi, xs, lens, top) {
  series.push({ type: 'custom', xAxisIndex: xi, yAxisIndex: yi, silent: true, z: 3,
    data: xs.map(function (x, i) { return [x, top, lens[i]]; }),
    renderItem: function (params, api) {
      var a = api.coord([api.value(0), top]), b = api.coord([api.value(0), top - api.value(2)]);
      return { type: 'line', shape: { x1: a[0], y1: a[1], x2: b[0], y2: b[1] }, style: { stroke: '#000', lineWidth: 1.6 } };
    } });
}
function gridLineSeries(xi, yi, xr, yr, xs, ys, color, w) {
  series.push({ type: 'custom', xAxisIndex: xi, yAxisIndex: yi, silent: true, z: 1,
    data: xs.map(function (v) { return [v, 0]; }).concat(ys.map(function (v) { return [v, 1]; })),
    renderItem: function (params, api) {
      var v = api.value(0), d = api.value(1);
      var a = d === 0 ? api.coord([v, yr[0]]) : api.coord([xr[0], v]);
      var b = d === 0 ? api.coord([v, yr[1]]) : api.coord([xr[1], v]);
      return { type: 'line', shape: { x1: a[0], y1: a[1], x2: b[0], y2: b[1] }, style: { stroke: color, lineWidth: w } };
    } });
}
var PLUS = 'path://M0,5L10,5M5,0L5,10';
var CROSS = 'path://M0,0L10,10M10,0L0,10';

// ---------------- panel A ----------------
txt(12, 14, 'A', 62);
graphics.push({ type: 'rect', z: 10, silent: true, shape: { x: p(54.6), y: p(5.4), width: p(1460), height: p(289.6), r: p(52) },
  style: { fill: 'none', stroke: '#000', lineWidth: 3, lineDash: [14, 7] } });
[[55.7, 132.6, '#1747D9'], [179.7, 256.5, '#EA3A1F']].forEach(function (b, i) {
  graphics.push({ type: 'rect', z: 10, silent: true, shape: { x: p(94), y: p(b[0]), width: p(256.8), height: p(b[1] - b[0]) },
    style: { fill: '#fff', stroke: b[2], lineWidth: 4 } });
  txt(222, b[0] + 26, boxTitles[i], 45);
  txt(223, b[0] + 59, boxRules[i], 45);
});
[416, 798].forEach(function (x0) {
  var cy = 161;
  graphics.push({ type: 'polygon', z: 10, silent: true, shape: { points: [[x0, cy - 5.6], [x0 + 12.5, cy - 5.6], [x0 + 12.5, cy - 10],
    [x0 + 22, cy], [x0 + 12.5, cy + 10], [x0 + 12.5, cy + 5.6], [x0, cy + 5.6]].map(function (q) { return [p(q[0]), p(q[1])]; }) },
    style: { fill: '#000' } });
});
(function () {
  var R = 115.7;
  var r = R * Math.sqrt((vennCounts[1] + vennCounts[2]) / (vennCounts[0] + vennCounts[1]));
  graphics.push({ type: 'circle', z: 10, silent: true, shape: { cx: p(602.9), cy: p(162.8), r: p(R) },
    style: { fill: 'rgba(0,255,255,0.5)', stroke: '#000', lineWidth: 2.5 } });
  graphics.push({ type: 'circle', z: 11, silent: true, shape: { cx: p(701.5), cy: p(162.8), r: p(r) },
    style: { fill: 'rgba(255,0,0,0.5)', stroke: '#000', lineWidth: 2.5 } });
  gline(721.5, 138, 721.5, 155, '#E06060', 1.5);
  txt(601.6, 32.7, vennSets[0], 43);
  txt(704, 199.8, vennSets[1], 43);
  txt(604, 160.4, String(vennCounts[0]), 43);
  txt(699, 162.3, String(vennCounts[1]), 43);
  txt(721, 130.3, String(vennCounts[2]), 43);
})();

// LASSO coefficient paths
(function () {
  var g = addGrid(909.4, 41.3, 1123.6, 233.4, '#000', 2);
  var xr = [-3.826, -0.419], yr = [-0.516, 1.086];
  var xi = addAxis('x', g, xr[0], xr[1], { pos: 'bottom', ticks: lassoTicks, fmt: f1, fs: 28, margin: 20, tickLen: 8, tickWidth: 2 });
  addAxis('x', g, xr[0], xr[1], { pos: 'top', ticks: lassoTicks, fs: 28, margin: 17, tickLen: 8, tickWidth: 2,
    fmt: function (v) { return lassoTopLab[lassoTicks.indexOf(v)]; } });
  var yi = addAxis('y', g, yr[0], yr[1], { pos: 'left', ticks: [-0.5, 0, 0.5, 1.0], fmt: f1, fs: 28, margin: 19, tickLen: 8, tickWidth: 2, rotate: 90 });
  lassoPaths.forEach(function (d, i) { lineSeries(xi, yi, d, rPalette[lassoColor[i]], 2); });
  txt(878.6, 127.2, 'Coefficients', 31, { rot: Math.PI / 2 });
  txt(1018.9, 270.7, 'Log Lambda', 31);
})();

// cross-validation curve
(function () {
  var g = addGrid(1220.6, 38.7, 1443.5, 238, '#000', 2);
  var xr = [-3.829, -0.414], yr = [10.876, 12.054];
  var xi = addAxis('x', g, xr[0], xr[1], { pos: 'bottom', ticks: lassoTicks, fmt: f1, fs: 29, margin: 21, tickLen: 8, tickWidth: 2 });
  addAxis('x', g, xr[0], xr[1], { pos: 'top', ticks: cvTopAt, fs: 29, margin: 10,
    fmt: function (v) { return cvTopLab[cvTopAt.indexOf(v)]; } });
  var yi = addAxis('y', g, yr[0], yr[1], { pos: 'left', ticks: cvTicksY, fmt: f1, fs: 29, margin: 16, tickLen: 8, tickWidth: 2 });
  errBarSeries(xi, yi, cvLogLam.map(function (x, i) { return [x, cvMean[i] - cvSE[i], cvMean[i] + cvSE[i]]; }), '#ABABAB', 2, 7, 3);
  cvLambdaSel.forEach(function (x) { lineSeries(xi, yi, [[x, yr[0]], [x, yr[1]]], '#000', 1.6, { lineStyle: { color: '#333', width: 1.6, type: [7, 5] } }); });
  series.push({ type: 'scatter', xAxisIndex: xi, yAxisIndex: yi, silent: true, z: 5, symbolSize: 9,
    data: cvLogLam.map(function (x, i) { return [x, cvMean[i]]; }), itemStyle: { color: '#FF0000' } });
  txt(1170, 147.5, 'Partial Likelihood Deviance', 31, { rot: Math.PI / 2 });
  txt(1332.4, 270.7, 'Log(\u03BB)', 31);
})();

// ---------------- KM panels ----------------
txt(222.6, 350, 'Train dataset', 60);
gline(100, 372.8, 313.7, 372.8, '#000', 3);
txt(775, 349.5, 'Validation datasets', 60);
gline(544, 373.5, 995.8, 373.5, '#000', 3);

function survAt(rows, t) {
  var s = rows[0][1];
  for (var i = 0; i < rows.length && rows[i][0] <= t; i++) s = rows[i][1];
  return s;
}
function kmPanel(c) {
  var g = addGrid(c.box[0], c.box[1], c.box[2], c.box[3]);
  var xi = addAxis('x', g, c.xr[0], c.xr[1], { pos: 'bottom', ticks: c.ticks, fmt: String, fs: 41, margin: 20, tickLen: 8, line: true });
  var yi = addAxis('y', g, c.yr[0], c.yr[1], { pos: 'left', ticks: [0, 0.25, 0.5, 0.75, 1],
    fmt: function (v) { return v.toFixed(2); }, fs: 41, margin: 16, tickLen: 8, line: true });
  [[c.high, c.censHigh, '#FF0000', 'rgba(255,0,0,0.3)'], [c.low, c.censLow, '#0000FF', 'rgba(0,0,255,0.3)']].forEach(function (gr) {
    bandSeries(xi, yi, gr[0], 2, 3, gr[3], true, 2);
    lineSeries(xi, yi, gr[0].map(function (r) { return [r[0], r[1]]; }), gr[2], 4, { step: 'end' });
    series.push({ type: 'scatter', xAxisIndex: xi, yAxisIndex: yi, silent: true, z: 4, symbol: PLUS, symbolSize: 15,
      data: gr[1].map(function (t) { return [t, survAt(gr[0], t)]; }),
      itemStyle: { color: 'none', borderColor: gr[2], borderWidth: 2.5 } });
  });
  // risk table
  var g2 = addGrid(c.risk[0], c.risk[1], c.risk[2], c.risk[3]);
  var xi2 = addAxis('x', g2, c.xr[0], c.xr[1], { pos: 'bottom', ticks: c.ticks, fmt: String, fs: 41, margin: 20, tickLen: 8, line: true });
  yAxes.push({ type: 'category', gridIndex: g2, data: ['Low', 'High'], boundaryGap: true,
    axisLine: { show: true, onZero: false, lineStyle: { color: '#000', width: 2.5 } },
    axisTick: { show: true, alignWithLabel: true, length: 8, lineStyle: { color: '#000', width: 2.5 } },
    axisLabel: { margin: 18, fontSize: 41, fontFamily: FONT,
      formatter: function (v) { return v === 'High' ? '{h|High}' : '{l|Low}'; },
      rich: { h: { color: '#FF0000', fontSize: 41, fontFamily: FONT }, l: { color: '#0000FF', fontSize: 41, fontFamily: FONT } } },
    splitLine: { show: false } });
  var yi2 = yAxes.length - 1;
  var rows = [];
  c.riskT.forEach(function (t, i) { rows.push([t, 1, c.riskHigh[i]]); rows.push([t, 0, c.riskLow[i]]); });
  series.push({ type: 'scatter', xAxisIndex: xi2, yAxisIndex: yi2, silent: true, z: 5, symbolSize: 1,
    itemStyle: { color: 'rgba(0,0,0,0)' }, data: rows,
    label: { show: true, position: 'inside', color: '#000', fontSize: 41, fontFamily: FONT,
      formatter: function (q) { return String(q.value[2]); } } });
  // annotations
  var mid = (c.box[0] + c.box[2]) / 2;
  txt(c.letter[0], c.letter[1], c.letter[2], 70);
  txt(c.title[0], c.title[1], c.name, 41);
  txt(c.srrs[0], c.srrs[1], 'SRRS', 41);
  [['High', c.legY[0], 'rgba(255,0,0,0.3)', '#FF0000'], ['Low', c.legY[1], 'rgba(0,0,255,0.3)', '#0000FF']].forEach(function (l) {
    graphics.push({ type: 'rect', z: 90, silent: true, shape: { x: p(c.legX), y: p(l[1] - 8.3), width: p(18.3), height: p(16.6) }, style: { fill: l[2] } });
    gline(c.legX + 1, l[1], c.legX + 17.3, l[1], l[3], 4);
    gline(c.legX + 9.15, l[1] - 3.2, c.legX + 9.15, l[1] + 3.2, l[3], 2.5);
    txt(c.legX + 28.5, l[1], l[0], 41, { align: 'left' });
  });
  txt(c.pval[0], c.pval[1], '{i|P} < 0.0001', 41, { align: 'left',
    rich: { i: { fontStyle: 'italic', fontSize: 41, fontFamily: FONT } } });
  txt(mid, c.xt[0], 'Time (years)', 41);
  txt(mid, c.xt[1], 'Time (years)', 41);
  txt(c.yt, (c.box[1] + c.box[3]) / 2, 'Survival probability', 41, { rot: Math.PI / 2 });
  txt(c.yt, (c.risk[1] + c.risk[3]) / 2, 'SRRS', 41, { rot: Math.PI / 2 });
}
kmPanel({ box: [85.4, 438, 343.5, 661], risk: [85.4, 721.8, 343.5, 823], xr: [-0.685, 13.13], yr: [-0.053, 1.048],
  ticks: riskTimesB, high: kmB_high, low: kmB_low, censHigh: censB_high, censLow: censB_low,
  riskT: riskTimesB, riskHigh: riskHighB, riskLow: riskLowB, name: 'CGGA_325',
  letter: [11.5, 400.7, 'B'], title: [194, 404], srrs: [305, 404], legX: 283.4, legY: [433, 463.4],
  pval: [103.3, 610], xt: [699, 859.5], yt: 16.5 });
kmPanel({ box: [480.3, 439, 739, 663], risk: [480.3, 725.2, 739, 827], xr: [-0.78, 15.73], yr: [-0.046, 1.052],
  ticks: riskTimesCD, high: kmC_high, low: kmC_low, censHigh: censC_high, censLow: censC_low,
  riskT: riskTimesCD, riskHigh: riskHighC, riskLow: riskLowC, name: 'CGGA_693',
  letter: [411.6, 397.3, 'C'], title: [584, 407.6], srrs: [701, 406.5], legX: 678, legY: [435.5, 465.9],
  pval: [497.3, 613.6], xt: [702.4, 864.7], yt: 411.6 });
kmPanel({ box: [883.2, 436.4, 1141, 659.6], risk: [883.2, 720, 1141, 821.8], xr: [-0.774, 15.72], yr: [-0.055, 1.048],
  ticks: riskTimesCD, high: kmD_high, low: kmD_low, censHigh: censD_high, censLow: censD_low,
  riskT: riskTimesCD, riskHigh: riskHighD, riskLow: riskLowD, name: 'CGGA_301',
  letter: [814.5, 400.7, 'D'], title: [995, 403.6], srrs: [1103.5, 402.5], legX: 1080.4, legY: [431.7, 461.7],
  pval: [900, 608.3], xt: [701.5, 857.8], yt: 813.3 });

// ---------------- ROC panels ----------------
function rocPanel(c) {
  var dx = c.dx, dy = c.dy;
  var g = addGrid(75.7 + dx, 917 + dy, 346 + dx, 1144 + dy, '#000', 2.5);
  var xi = addAxis('x', g, -0.04, 1.04, { pos: 'bottom', ticks: unitTicks, fmt: f1, fs: 40, margin: 31, tickLen: 18 });
  var yi = addAxis('y', g, -0.04, 1.04, { pos: 'left', ticks: unitTicks, fmt: f1, fs: 40, margin: 37, tickLen: 18, rotate: 90 });
  lineSeries(xi, yi, [[-0.04, -0.04], [1.04, 1.04]], '#000', 2, { lineStyle: { color: '#000', width: 2, type: [8, 6] } });
  var cols = ['#00FF00', '#0000FF', '#FF0000'];
  [c.y1, c.y3, c.y5].forEach(function (d, i) { lineSeries(xi, yi, d, cols[i], 4.5); });
  txt(c.letter[0], c.letter[1], c.letter[2], 70);
  txt(86 + dx, 935 + dy, c.name, 44, { align: 'left', z: 1 });
  ['1', '3', '5'].forEach(function (yr, i) {
    var y = [1072.5, 1101, 1130][i] + dy;
    gline(160.6 + dx, y, 183.6 + dx, y, cols[i], 7);
    txt(193.8 + dx, y, 'AUC at ' + yr + ' year: ' + c.auc[i], 40, { align: 'left' });
  });
  txt(17 + dx, 1020 + dy, 'Sensitivity', 45, { rot: Math.PI / 2 });
  txt(211 + dx, 1204.3 + dy, '1\u2212Specificity', 45);
}
rocPanel({ dx: 0, dy: 0, y1: rocE1, y3: rocE3, y5: rocE5, auc: aucE, name: 'CGGA_325', letter: [11.5, 903, 'E'] });
rocPanel({ dx: 395.9, dy: -2, y1: rocF1, y3: rocF3, y5: rocF5, auc: aucF, name: 'CGGA_693', letter: [409.5, 904, 'F'] });
rocPanel({ dx: 798.4, dy: -1, y1: rocG1, y3: rocG3, y5: rocG5, auc: aucG, name: 'CGGA_301', letter: [815, 904, 'G'] });

// ---------------- calibration panels ----------------
function calPanel(c) {
  var dx = c.dx;
  var g = addGrid(74.6 + dx, 1270.4, 345.4 + dx, 1497.7, '#000', 2.5);
  var xi = addAxis('x', g, -0.04, 1.04, { pos: 'bottom', ticks: unitTicks, fmt: f1, fs: 40, margin: 31, tickLen: 18 });
  var yi = addAxis('y', g, -0.04, 1.04, { pos: 'left', ticks: unitTicks, fmt: f1, fs: 40, margin: 37, tickLen: 18, rotate: 90 });
  lineSeries(xi, yi, [[-0.04, -0.04], [1.04, 1.04]], '#DADADA', 2, { z: 2 });
  rugSeries(xi, yi, c.rugX, c.rugL, 1.04);
  errBarSeries(xi, yi, c.err, '#000', 3.2, 7, 4);
  var cols = ['#00FF00', '#0000FF', '#FF0000'];
  [c.y1, c.y3, c.y5].forEach(function (d, i) {
    lineSeries(xi, yi, d, cols[i], 2.5, { showSymbol: true, symbol: CROSS, symbolSize: 15, z: 5,
      itemStyle: { color: 'none', borderColor: cols[i], borderWidth: 2.5 } });
  });
  txt(c.letter[0], c.letter[1], c.letter[2], 70);
  txt(89.5 + dx, 1297, c.name, 46, { align: 'left', z: 1 });
  ['1\u2212year', '3\u2212year', '5\u2212year'].forEach(function (s, i) {
    var y = [1424.8, 1452.8, 1481.7][i];
    gline(251 + dx, y, 274 + dx, y, cols[i], 6);
    txt(283 + dx, y, s, 45, { align: 'left' });
  });
  txt(17 + dx, 1383.4, 'Observed OS (%)', 45, { rot: Math.PI / 2 });
  txt(210 + dx, 1555.5, 'SRRS\u2212predicted OS (%)', 45);
}
calPanel({ dx: 0, y1: calH1, y3: calH3, y5: calH5, err: errH, rugX: rugHx, rugL: rugHlen, name: 'CGGA_325', letter: [12.6, 1260, 'H'] });
calPanel({ dx: 395.9, y1: calI1, y3: calI3, y5: calI5, err: errI, rugX: rugIx, rugL: rugIlen, name: 'CGGA_693', letter: [410, 1259, 'I'] });
calPanel({ dx: 798.4, y1: calJ1, y3: calJ3, y5: calJ5, err: errJ, rugX: rugJx, rugL: rugJlen, name: 'CGGA_301', letter: [815, 1260, 'J'] });

// ---------------- drug sensitivity scatter panels ----------------
function scatterPanel(c) {
  var b = c.box;
  var g = addGrid(b[0], b[1], b[2], b[3], '#333333', 2);
  var xi = addAxis('x', g, c.xr[0], c.xr[1], { pos: 'bottom', ticks: srrsTicks, fmt: String, fs: 36, margin: 15, tickLen: 8, tickColor: '#333', tickWidth: 2, color: '#4D4D4D' });
  var yi = addAxis('y', g, c.yr[0], c.yr[1], { pos: 'left', ticks: c.yTicks, fmt: c.yFmt, fs: 36, margin: 15, tickLen: 8, tickColor: '#333', tickWidth: 2, color: '#4D4D4D' });
  gridLineSeries(xi, yi, c.xr, c.yr, srrsMinor, c.yMinor, '#F3F3F3', 1.3);
  gridLineSeries(xi, yi, c.xr, c.yr, srrsTicks, c.yTicks, '#EBEBEB', 2.4);
  series.push({ type: 'scatter', xAxisIndex: xi, yAxisIndex: yi, silent: true, z: 3, symbolSize: 11.5,
    data: c.pts, itemStyle: { color: '#000' } });
  bandSeries(xi, yi, c.band, 1, 2, 'rgba(153,153,153,0.4)', false, 4);
  lineSeries(xi, yi, c.fit, '#3366FF', 4.5, { z: 5 });
  txt(c.letter[0], c.letter[1], c.letter[2], 70);
  txt(c.rx, c.ry[0], c.rText, 41, { align: 'left' });
  txt(c.rx, c.ry[1], 'p < 2.2e-16', 41, { align: 'left' });
  txt((b[0] + b[2]) / 2, b[3] + 34.3, 'SRRS', 37);
  txt(1215.4, (b[1] + b[3]) / 2, c.yTitle, 37, { rot: Math.PI / 2 });
}
scatterPanel({ box: [1253.5, 387.2, 1513.9, 620], xr: [3.897, 8.16], yr: [-3.5, 4.72], yTicks: [-2, 0, 2, 4], yMinor: [-3, -1, 1, 3],
  yFmt: minus, pts: scatK, fit: fitK, band: bandK, letter: [1210.2, 352.7, 'K'], rx: 1262, ry: [558.5, 597.7],
  rText: 'R = -0.78', yTitle: 'A\u2212770041 senstivity (IC50)' });
scatterPanel({ box: [1248.3, 685.5, 1512.9, 917.9], xr: [3.90, 8.16], yr: [1.53, 4.78], yTicks: [2, 3, 4], yMinor: [2.5, 3.5, 4.5],
  yFmt: String, pts: scatL, fit: fitL, band: bandL, letter: [1212, 663, 'L'], rx: 1256, ry: [856.5, 895.6],
  rText: 'R = -0.77', yTitle: 'Bexarotene senstivity (IC50)' });
scatterPanel({ box: [1255.5, 984.1, 1513.9, 1216.5], xr: [3.892, 8.17], yr: [3.2, 5.39], yTicks: [3.5, 4.0, 4.5, 5.0], yMinor: [3.25, 3.75, 4.25, 4.75, 5.25],
  yFmt: function (v) { return v.toFixed(1); }, pts: scatM, fit: fitM, band: bandM, letter: [1214.2, 970.5, 'M'], rx: 1426.4, ry: [1162, 1201],
  rText: 'R = 0.61', yTitle: 'CP724714 senstivity (IC50)' });
scatterPanel({ box: [1249.3, 1281.8, 1510.8, 1513.7], xr: [3.883, 8.13], yr: [0.427, 3.63], yTicks: [1, 2, 3], yMinor: [1.5, 2.5, 3.5],
  yFmt: String, pts: scatN, fit: fitN, band: bandN, letter: [1214, 1277.4, 'N'], rx: 1427.5, ry: [1462, 1500.8],
  rText: 'R = 0.51', yTitle: 'Erlotinib senstivity (IC50)' });

var chart = echarts.init(document.getElementById('fig'), null, { renderer: 'canvas', width: 3898, height: 4031 });
chart.setOption({
  animation: false,
  backgroundColor: '#ffffff',
  grid: grids,
  xAxis: xAxes,
  yAxis: yAxes,
  series: series,
  graphic: { elements: graphics }
});
</script>
</body>
</html>
